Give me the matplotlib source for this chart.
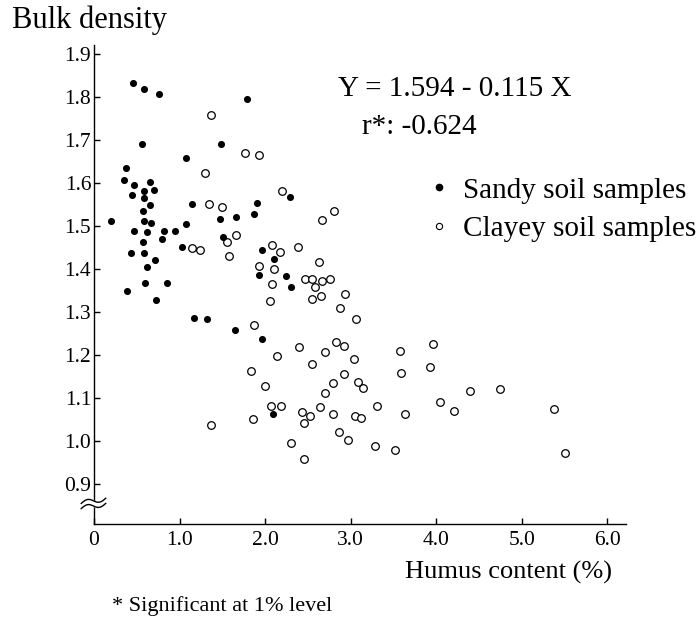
import numpy as np
import matplotlib.pyplot as plt
from matplotlib.lines import Line2D

plt.rcParams['font.family'] = ['Liberation Serif', 'DejaVu Serif']

# humus content (%) and bulk density for the sandy soil samples
sandy_humus = [0.46, 0.58, 0.76, 1.79, 0.56, 1.49, 1.07, 0.37, 0.35, 0.47,
               0.65, 0.70, 0.58, 0.44, 0.59, 0.65, 1.14, 1.90, 0.57, 1.87,
               1.47, 1.66, 0.20, 0.58, 0.67, 1.07, 0.47, 0.62, 0.82, 0.95,
               1.51, 0.79, 0.57, 0.43, 0.59, 1.03, 0.71, 0.62, 1.96, 2.10,
               1.93, 0.39, 0.60, 0.85, 0.72, 1.17, 1.32, 1.65, 1.96, 2.09,
               2.29, 2.25, 2.30]
sandy_density = [1.832, 1.818, 1.807, 1.796, 1.690, 1.690, 1.658, 1.635, 1.607, 1.595,
                 1.601, 1.583, 1.581, 1.571, 1.565, 1.548, 1.551, 1.554, 1.534, 1.528,
                 1.517, 1.520, 1.511, 1.511, 1.507, 1.504, 1.489, 1.485, 1.489, 1.489,
                 1.475, 1.469, 1.462, 1.436, 1.436, 1.450, 1.421, 1.405, 1.444, 1.424,
                 1.386, 1.349, 1.366, 1.366, 1.328, 1.286, 1.283, 1.258, 1.237, 1.062,
                 1.568, 1.384, 1.358]

# humus content (%) and bulk density for the clayey soil samples
clayey_humus = [1.37, 1.76, 1.93, 1.30, 1.35, 1.50, 1.66, 2.20, 2.81, 2.67,
                1.56, 1.58, 1.14, 1.24, 2.08, 2.17, 1.93, 2.10, 2.08, 2.06,
                2.39, 2.63, 2.47, 2.55, 2.66, 2.76, 2.58, 2.55, 2.65, 2.93,
                2.88, 3.06, 1.87, 2.40, 2.14, 2.83, 2.92, 2.70, 3.04, 3.58,
                2.55, 1.83, 2.92, 3.59, 2.00, 2.79, 3.09, 3.14, 2.70, 2.07,
                2.19, 1.86, 2.43, 2.52, 2.46, 2.64, 2.80, 3.05, 3.12, 3.31,
                3.64, 2.86, 2.97, 2.30, 3.28, 3.52, 2.45, 1.37, 3.96, 3.93,
                4.40, 4.75, 4.05, 4.21, 5.38, 5.51]
clayey_density = [1.759, 1.669, 1.666, 1.624, 1.552, 1.545, 1.479, 1.581, 1.534, 1.514,
                  1.462, 1.431, 1.448, 1.444, 1.456, 1.440, 1.406, 1.399, 1.365, 1.326,
                  1.451, 1.417, 1.376, 1.376, 1.372, 1.377, 1.358, 1.329, 1.336, 1.341,
                  1.310, 1.283, 1.269, 1.217, 1.197, 1.229, 1.221, 1.207, 1.190, 1.208,
                  1.178, 1.162, 1.156, 1.157, 1.127, 1.134, 1.136, 1.123, 1.110, 1.081,
                  1.081, 1.050, 1.067, 1.057, 1.041, 1.078, 1.061, 1.057, 1.052, 1.080,
                  1.061, 1.020, 1.002, 0.995, 0.988, 0.978, 0.957, 1.037, 1.224, 1.171,
                  1.115, 1.120, 1.089, 1.069, 1.074, 0.971]

x_ticks = [0, 1, 2, 3, 4, 5, 6]
x_ticklabels = ['0', '1.0', '2.0', '3.0', '4.0', '5.0', '6.0']
y_ticks = [0.9, 1.0, 1.1, 1.2, 1.3, 1.4, 1.5, 1.6, 1.7, 1.8, 1.9]
y_ticklabels = ['0.9', '1.0', '1.1', '1.2', '1.3', '1.4', '1.5', '1.6', '1.7', '1.8', '1.9']

fig = plt.figure(figsize=(7, 6.24), dpi=100)
ax = fig.add_axes([0.1343, 0.1595, 0.76, 0.7684])

ax.scatter(clayey_humus, clayey_density, s=30, facecolors='white', edgecolors='black',
           linewidths=0.9, zorder=3)
ax.scatter(sandy_humus, sandy_density, s=26, color='black', linewidths=0, zorder=4)

ax.set_xlim(0, 6.22)
ax.set_ylim(0.805, 1.921)
ax.spines['right'].set_visible(False)
ax.spines['top'].set_visible(False)
ax.spines['left'].set_linewidth(1.0)
ax.spines['bottom'].set_linewidth(1.0)

ax.set_xticks(x_ticks)
ax.set_xticklabels(x_ticklabels)
ax.set_yticks(y_ticks)
ax.set_yticklabels(y_ticklabels)
ax.tick_params(axis='x', direction='in', length=4, width=1, pad=5, labelsize=15.5)
ax.tick_params(axis='y', direction='in', length=4, width=1, pad=2, labelsize=15.5)

# axis break marks on the y axis
t = np.linspace(0, 1, 60)
bx = -0.024 + 0.046 * t
wave = 0.006 * np.sin(2 * np.pi * t) + 0.012 * t
yb = 0.848
trans = ax.get_yaxis_transform()
ax.fill_between(bx, yb - 0.006 + wave, yb + 0.006 + wave, color='white',
                transform=trans, clip_on=False, zorder=5)
ax.plot(bx, yb - 0.006 + wave, color='black', lw=1.0, transform=trans, clip_on=False, zorder=6)
ax.plot(bx, yb + 0.006 + wave, color='black', lw=1.0, transform=trans, clip_on=False, zorder=6)

fig.text(0.017, 0.968, 'Bulk density', fontsize=22, ha='left', va='center')
fig.text(0.874, 0.082, 'Humus content (%)', fontsize=19, ha='right', va='center')
fig.text(0.16, 0.029, '* Significant at 1% level', fontsize=16, ha='left', va='center')

fig.text(0.483, 0.858, 'Y = 1.594 - 0.115 X', fontsize=21, ha='left', va='center')
fig.text(0.517, 0.797, 'r*: -0.624', fontsize=21, ha='left', va='center')

handles = [Line2D([], [], linestyle='none', marker='o', markersize=4.5, color='black'),
           Line2D([], [], linestyle='none', marker='o', markersize=4.5, markerfacecolor='white',
                  markeredgecolor='black', markeredgewidth=0.8)]
ax.legend(handles, ['Sandy soil samples', 'Clayey soil samples'], loc='upper left',
          bbox_to_anchor=(0.615, 0.716), bbox_transform=fig.transFigure, frameon=False,
          fontsize=21, handlelength=0.6, handletextpad=0.5, labelspacing=0.4,
          borderaxespad=0, borderpad=0)

fig.savefig('out.png', dpi=100)
